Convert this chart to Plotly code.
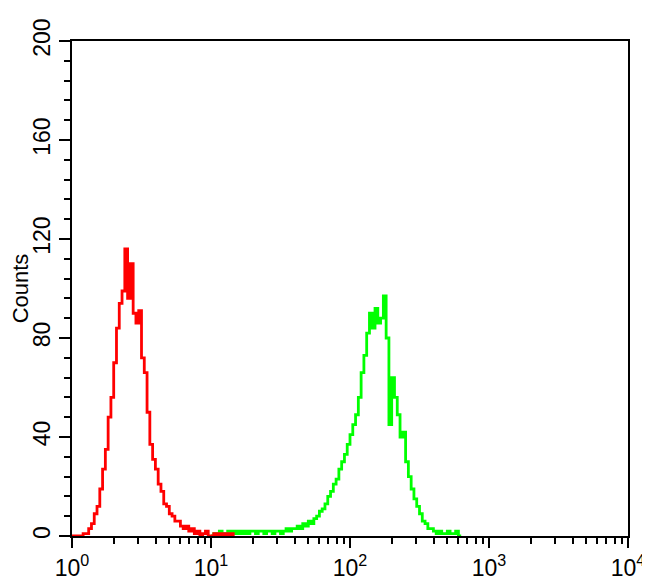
import plotly.graph_objects as go

# Histogram bins: log10 channel grid (bin width in decades)
bin_width = 0.02
red_start = 0.0     # log10 of first red bin
green_start = 1.0   # log10 of first green bin

red_counts = [0, 0, 0, 0, 1, 1, 3, 5, 9, 12, 19, 27, 35, 48, 56, 70, 84, 94, 99, 116,
              96, 110, 90, 86, 91, 72, 66, 50, 37, 31, 27, 21, 18, 13, 12, 9, 8, 6, 6, 4,
              3, 4, 2, 3, 1, 2, 0, 1, 2, 0, 0, 1, 0, 1, 0, 1, 0, 1, 0]

green_counts = [0, 1, 1, 2, 1, 1, 2, 1, 2, 1, 2, 1, 2, 1, 2, 2, 1, 2, 2, 1,
                2, 2, 1, 2, 2, 1, 2, 3, 2, 3, 3, 4, 3, 5, 4, 6, 5, 7, 8, 10,
                11, 13, 16, 18, 21, 23, 27, 30, 33, 37, 41, 45, 49, 56, 66, 73, 82, 90, 84, 92,
                86, 88, 97, 80, 45, 64, 56, 49, 40, 42, 30, 24, 19, 15, 12, 9, 6, 5, 3, 3,
                2, 1, 2, 1, 1, 2, 1, 1, 2, 0, 0]

x_tickvals = [1, 10, 100, 1000, 10000]
x_ticktext = ["10<sup>0</sup>", "10<sup>1</sup>", "10<sup>2</sup>", "10<sup>3</sup>", "10<sup>4</sup>"]
y_tickvals = [0, 40, 80, 120, 160, 200]
y_ticktext = ["0", "40", "80", "120", "160", "200"]
y_label = "Counts"

red_x = [10 ** (red_start + i * bin_width) for i in range(len(red_counts))]
green_x = [10 ** (green_start + i * bin_width) for i in range(len(green_counts))]

x_minor = [m * 10 ** k for k in range(4) for m in range(2, 10)]

fig = go.Figure()
fig.add_trace(go.Scatter(x=green_x, y=green_counts, mode="lines", line_shape="hv",
                         line=dict(color="#00ff00", width=2.8), showlegend=False))
fig.add_trace(go.Scatter(x=red_x, y=red_counts, mode="lines", line_shape="hv",
                         line=dict(color="#ff0000", width=2.8), showlegend=False))

font_family = "Liberation Sans, Arial, sans-serif"
fig.update_layout(
    width=642, height=577,
    margin=dict(l=64, r=22, t=33, b=49),
    plot_bgcolor="white", paper_bgcolor="white",
    font=dict(family=font_family, size=20, color="black"),
    xaxis=dict(type="log", range=[0, 4], tickmode="array", tickvals=x_tickvals,
               ticktext=x_ticktext, ticks="outside", ticklen=10, tickwidth=2,
               tickcolor="black", showline=True, linecolor="black", linewidth=2,
               mirror=True, showgrid=False, zeroline=False, automargin=False,
               tickfont=dict(size=23),
               minor=dict(ticks="outside", ticklen=6, tickwidth=1.5, tickcolor="black",
                          tickvals=x_minor, showgrid=False)),
    yaxis=dict(range=[0, 200], tickmode="array", tickvals=y_tickvals, ticktext=y_ticktext,
               ticks="outside", ticklen=11, tickwidth=2, tickcolor="black",
               showline=True, linecolor="black", linewidth=2, mirror=True,
               showgrid=False, zeroline=False, automargin=False, tickangle=-90,
               tickfont=dict(size=23),
               title=dict(text=y_label, font=dict(size=22), standoff=0),
               minor=dict(ticks="outside", ticklen=6, tickwidth=1.5, tickcolor="black",
                          dtick=8, tick0=0, showgrid=False)),
)

fig.write_html("out.html")
